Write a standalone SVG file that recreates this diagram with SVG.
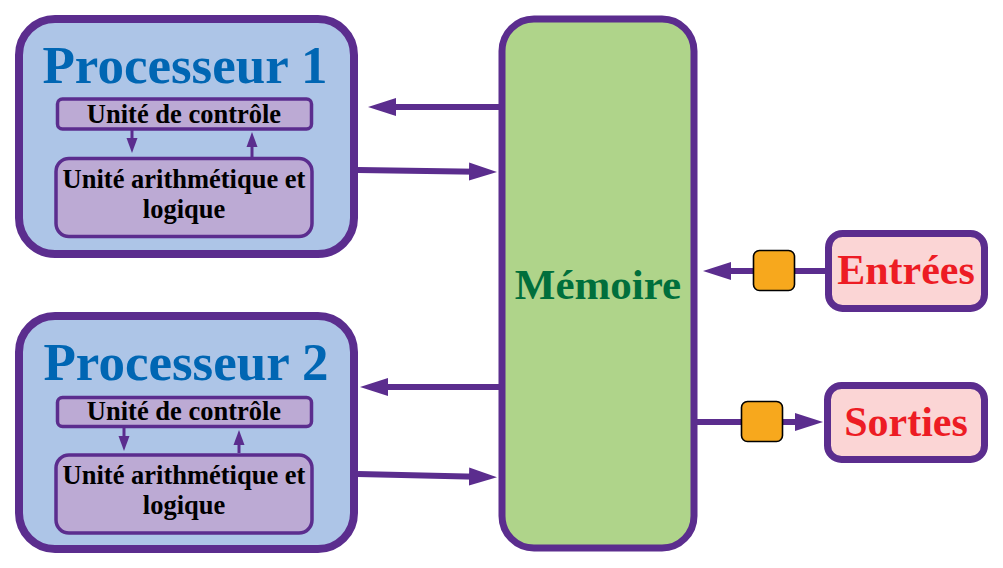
<svg xmlns="http://www.w3.org/2000/svg" width="1003" height="568" viewBox="0 0 1003 568">
<style>
.proc{fill:#adc5e7;stroke:#5b2d8e;stroke-width:8}
.unit{fill:#bcaad4;stroke:#5b2d8e;stroke-width:3.5}
.mem{fill:#afd48a;stroke:#5b2d8e;stroke-width:7}
.io{fill:#fbd5d5;stroke:#5b2d8e;stroke-width:7}
.port{fill:#f7a81d;stroke:#000;stroke-width:1.6}
.title{font-family:"Liberation Serif","Times New Roman",serif;font-weight:bold;font-size:53px;fill:#0066b3;text-anchor:middle}
.ut{font-family:"Liberation Serif","Times New Roman",serif;font-weight:bold;font-size:26.5px;fill:#000;text-anchor:middle}
.memt{font-family:"Liberation Serif","Times New Roman",serif;font-weight:bold;font-size:43px;fill:#006f3c;text-anchor:middle}
.iot{font-family:"Liberation Serif","Times New Roman",serif;font-weight:bold;font-size:42px;fill:#ed1c24;text-anchor:middle}
.big{stroke:#5b2d8e;stroke-width:6;fill:none;marker-end:url(#ah)}
.small{stroke:#5b2d8e;stroke-width:3;fill:none;marker-end:url(#as)}
</style>
<defs>
<marker id="ah" markerUnits="userSpaceOnUse" markerWidth="28" markerHeight="20" refX="8" refY="10" orient="auto">
<path d="M0,1 L28,10 L0,19 z" fill="#5b2d8e"/>
</marker>
<marker id="as" markerUnits="userSpaceOnUse" markerWidth="15" markerHeight="12" refX="5" refY="6" orient="auto">
<path d="M0,0.5 L15,6 L0,11.5 z" fill="#5b2d8e"/>
</marker>
</defs>

<g id="processeur1">
<rect class="proc" x="19" y="19" width="335" height="235" rx="36"/>
<text class="title" x="185" y="83">Processeur 1</text>
<rect class="unit" x="57.5" y="99" width="254" height="30" rx="5"/>
<text class="ut" x="184" y="123">Unité de contrôle</text>
<rect class="unit" x="56" y="158.5" width="256" height="78" rx="13"/>
<text class="ut" x="184" y="188">Unité arithmétique et</text>
<text class="ut" x="184" y="218">logique</text>
</g>

<g id="processeur2">
<rect class="proc" x="19" y="316" width="335" height="233" rx="36"/>
<text class="title" x="186" y="380">Processeur 2</text>
<rect class="unit" x="57.5" y="397.5" width="254" height="29" rx="5"/>
<text class="ut" x="184" y="420">Unité de contrôle</text>
<rect class="unit" x="56" y="455" width="256" height="78" rx="13"/>
<text class="ut" x="184" y="484">Unité arithmétique et</text>
<text class="ut" x="184" y="514">logique</text>
</g>

<g id="memoire">
<rect class="mem" x="502" y="19" width="192" height="529" rx="32"/>
<text class="memt" x="598" y="299">Mémoire</text>
</g>

<g id="entrees">
<rect class="io" x="828.5" y="233.5" width="156" height="75" rx="14"/>
<text class="iot" x="906" y="284">Entrées</text>
</g>

<g id="sorties">
<rect class="io" x="827.5" y="385.5" width="157" height="74" rx="14"/>
<text class="iot" x="906" y="436">Sorties</text>
</g>

<g id="connecteurs">
<line class="small" x1="132" y1="130" x2="132" y2="143"/>
<line class="small" x1="252" y1="157" x2="252" y2="142"/>
<line class="small" x1="124" y1="428" x2="124" y2="441"/>
<line class="small" x1="239" y1="453" x2="239" y2="440"/>
<line class="big" x1="500" y1="107" x2="388" y2="107"/>
<line class="big" x1="358" y1="170" x2="477" y2="171.7"/>
<line class="big" x1="500" y1="387" x2="380" y2="387"/>
<line class="big" x1="358" y1="474" x2="477" y2="476.7"/>
<line class="big" x1="826" y1="271" x2="723" y2="271"/>
<line class="big" x1="697" y1="422" x2="803" y2="422"/>
<rect class="port" x="753.5" y="250.5" width="41" height="40" rx="6"/>
<rect class="port" x="741.5" y="401.5" width="41" height="40" rx="6"/>
</g>
</svg>
